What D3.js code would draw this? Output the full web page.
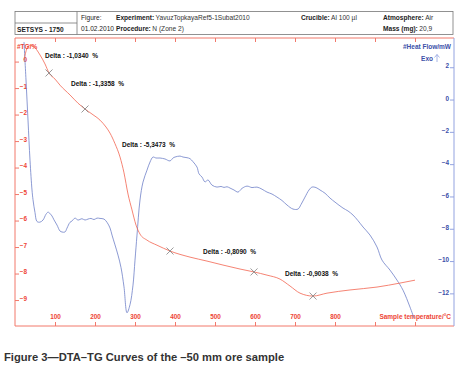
<!DOCTYPE html>
<html>
<head>
<meta charset="utf-8">
<script src="https://cdn.jsdelivr.net/npm/d3@7"></script>
<style>
  body { margin: 0; background: #fff; }
  svg { display: block; font-family: "Liberation Sans", Arial, Helvetica, sans-serif; }
</style>
</head>
<body>
<div id="chart"></div>
<script>
// TG curve (sample temperature °C, mass change %)
const tgTemp = [22.5, 30, 37.5, 50, 62.5, 75, 85, 100, 112.5, 137.5, 157.5, 175, 192.5, 212.5, 227.5, 237.5, 250, 262.5, 272.5, 282.5, 292.5, 302.5, 312.5, 330, 355, 387.5, 437.5, 480, 520, 562.5, 597.5, 630, 662.5, 687.5, 712.5, 745, 780, 837.5, 905, 962.5, 1000];
const tgValue = [0.06, 0.5, 0.62, 0.52, 0.25, -0.09, -0.43, -0.66, -0.89, -1.26, -1.57, -1.79, -1.98, -2.21, -2.47, -2.7, -3.1, -3.6, -4.2, -5.0, -5.6, -6.17, -6.51, -6.74, -6.93, -7.15, -7.38, -7.53, -7.68, -7.83, -7.94, -8.06, -8.21, -8.47, -8.74, -8.85, -8.74, -8.62, -8.51, -8.36, -8.25];

// DTA curve (sample temperature °C, heat flow mW)
const hfTemp = [22.5, 27.5, 32.5, 37.5, 42.5, 45, 50, 55, 62.5, 70, 77.5, 82.5, 85, 92.5, 97.5, 105, 112.5, 117.5, 125, 130, 137.5, 142.5, 150, 157.5, 167.5, 175, 182.5, 190, 197.5, 205, 212.5, 222.5, 230, 237.5, 242.5, 250, 257.5, 265, 272.5, 280, 287.5, 295, 300, 305, 312.5, 320, 330, 337.5, 345, 352.5, 362.5, 375, 387.5, 395, 400, 412.5, 420, 430, 437.5, 445, 455, 460, 467.5, 475, 482.5, 492.5, 505, 515, 522.5, 530, 537.5, 547.5, 557.5, 567.5, 580, 592.5, 605, 617.5, 630, 642.5, 655, 667.5, 680, 695, 707.5, 715, 725, 735, 742.5, 752.5, 762.5, 775, 787.5, 800, 820, 832.5, 845, 857.5, 870, 887.5, 905, 917.5, 937.5, 955, 970, 987.5, 997.5];
const hfValue = [3.56, 1.21, -1.27, -3.75, -5.6, -6.2, -7.0, -7.55, -7.59, -7.46, -7.1, -6.97, -7.0, -7.21, -7.45, -7.77, -8.14, -8.2, -8.2, -7.96, -7.6, -7.52, -7.34, -7.46, -7.38, -7.46, -7.4, -7.36, -7.43, -7.34, -7.36, -7.4, -7.6, -7.95, -8.39, -9.0, -9.63, -10.4, -11.6, -13.2, -12.7, -11.49, -9.94, -8.39, -6.22, -5.11, -4.37, -3.87, -3.56, -3.62, -3.62, -3.68, -3.8, -3.62, -3.56, -3.5, -3.56, -3.6, -3.66, -3.85, -4.18, -4.6, -4.8, -5.1, -4.98, -5.3, -5.42, -5.38, -5.44, -5.4, -5.48, -5.6, -5.73, -5.5, -5.36, -5.45, -5.42, -5.55, -5.73, -5.85, -6.04, -6.25, -6.53, -6.78, -6.78, -6.5, -6.04, -5.6, -5.42, -5.45, -5.6, -5.8, -6.1, -6.35, -6.72, -6.9, -7.15, -7.5, -7.89, -8.39, -9.13, -9.94, -10.56, -11.18, -11.8, -12.85, -13.53];

// Delta step markers on TG curve
const markerTemp = [85, 175, 387.5, 597.5, 745];
const markerValue = [-0.43, -1.79, -7.15, -7.94, -8.85];
const deltaText = ["Delta : -1,0340  %", "Delta : -1,3358  %", "Delta : -5,3473  %", "Delta : -0,8090  %", "Delta : -0,9038  %"];
const deltaTemp = [75, 140, 267.5, 470, 675];
const deltaValue = [0.15, -0.91, -3.21, -7.28, -8.08];

// axis ticks
const tempTicks = [100, 200, 300, 400, 500, 600, 700, 800, 900, 1000];
const tempLabels = ["100", "200", "300", "400", "500", "600", "700", "800", "", ""];
const tgTicks = [0, -1, -2, -3, -4, -5, -6, -7, -8, -9];
const hfTicks = [2, 0, -2, -4, -6, -8, -10, -12];

const W = 460, H = 367;
const plot = {left: 15, right: 454, top: 38, bottom: 326};
const red = "#ee4536", redLine = "#f26450", redAxis = "#f2786b", blue = "#6f80c8", blueAxis = "#93a3e0";

const svg = d3.select("#chart").append("svg")
    .attr("width", W)
    .attr("height", H);

const x = d3.scaleLinear().domain([0, 1097.5]).range([plot.left, plot.right]);
const yTG = d3.scaleLinear().domain([-9.98, 0.89]).range([plot.bottom, plot.top]);
const yHF = d3.scaleLinear().domain([-14.02, 3.81]).range([plot.bottom, plot.top]);

// header box
const head = svg.append("g").attr("stroke", "#777").attr("fill", "none").attr("stroke-width", 0.8);
head.append("rect").attr("x", 15).attr("y", 11.5).attr("width", 438).attr("height", 23);
head.append("line").attr("x1", 77).attr("x2", 77).attr("y1", 11.5).attr("y2", 34.5);
head.append("line").attr("x1", 15).attr("x2", 77).attr("y1", 23).attr("y2", 23);

function headText(xp, yp, label, value) {
    const t = svg.append("text").attr("x", xp).attr("y", yp)
        .style("font-size", "6.6px")
        .style("fill", "#222")
        .text(label);
    if (value !== undefined) {
        t.style("font-weight", "bold");
        const w = t.node().getComputedTextLength();
        svg.append("text").attr("x", xp + w + 1.5).attr("y", yp)
            .style("font-size", "6.6px")
            .style("fill", "#333")
            .text(value);
    }
}
headText(17, 31.5, "SETSYS - 1750", "");
headText(81, 19.5, "Figure:");
headText(116, 19.5, "Experiment:", "YavuzTopkayaRef5-1Subat2010");
headText(301, 19.5, "Crucible:", "Al 100 µl");
headText(383, 19.5, "Atmosphere:", "Air");
headText(81, 31, "01.02.2010");
headText(116, 31, "Procedure:", " N (Zone 2)");
headText(383, 31, "Mass (mg):", " 20,9");

// axes
const bottomAxis = svg.append("g")
    .attr("transform", `translate(0,${plot.bottom})`)
    .call(d3.axisTop(x).tickValues(tempTicks).tickSize(4).tickPadding(3)
        .tickFormat((d, i) => tempLabels[i]));
bottomAxis.select(".domain").attr("d", `M${plot.left},0H${plot.right}`);

const topAxis = svg.append("g")
    .attr("transform", `translate(0,${plot.top})`)
    .call(d3.axisBottom(x).tickValues(tempTicks).tickSize(4).tickFormat(""));
topAxis.select(".domain").attr("d", `M${plot.left},0H${plot.right}`);

const leftAxis = svg.append("g")
    .attr("transform", `translate(${plot.left},0)`)
    .call(d3.axisRight(yTG).tickValues(tgTicks).tickSize(4).tickFormat(d3.format("d")));
leftAxis.select(".domain").attr("d", `M0,${plot.top}V${plot.bottom}`);
leftAxis.selectAll(".tick text").attr("x", 12).attr("dy", "0.05em").attr("text-anchor", "end");

const rightAxis = svg.append("g")
    .attr("transform", `translate(${plot.right},0)`)
    .call(d3.axisLeft(yHF).tickValues(hfTicks).tickSize(4).tickFormat(d3.format("d")));
rightAxis.select(".domain").attr("d", `M0,${plot.top}V${plot.bottom}`);
rightAxis.selectAll(".tick text").attr("x", -5).attr("dy", "0.1em");

[bottomAxis, topAxis, leftAxis].forEach(g => {
    g.selectAll("path, line").attr("stroke", redAxis).attr("stroke-width", 1);
    g.selectAll("text").style("fill", red).style("font-size", "6.4px").style("font-weight", "bold");
});
rightAxis.selectAll("path, line").attr("stroke", blueAxis).attr("stroke-width", 1);
rightAxis.selectAll("text").style("fill", "#3b4fa8").style("font-size", "6.4px").style("font-weight", "bold");

// axis titles
svg.append("text").attr("x", 17).attr("y", 48.5)
    .style("font-size", "6.5px").style("font-weight", "bold").style("fill", red)
    .text("#TG/%");
svg.append("text").attr("x", 451).attr("y", 319).attr("text-anchor", "end")
    .style("font-size", "6.5px").style("font-weight", "bold").style("fill", red)
    .text("Sample temperature/°C");
svg.append("text").attr("x", 451).attr("y", 48.5).attr("text-anchor", "end")
    .style("font-size", "6.5px").style("font-weight", "bold").style("fill", "#3b4fa8")
    .text("#Heat Flow/mW");
svg.append("text").attr("x", 433).attr("y", 60.5).attr("text-anchor", "end")
    .style("font-size", "6.5px").style("font-weight", "bold").style("fill", "#3b4fa8")
    .text("Exo");
svg.append("path")
    .attr("d", "M437,62V54.5M434.5,57.5L437,54.5L439.5,57.5")
    .attr("fill", "none").attr("stroke", blueAxis).attr("stroke-width", 0.8);

// DTA curve
const hfData = hfTemp.map((t, i) => [t, hfValue[i]]);
svg.append("path")
    .datum(hfData)
    .attr("fill", "none")
    .attr("stroke", blue)
    .attr("stroke-width", 0.8)
    .attr("d", d3.line().x(d => x(d[0])).y(d => yHF(d[1])).curve(d3.curveCatmullRom.alpha(0.5)));

// TG curve
const tgData = tgTemp.map((t, i) => [t, tgValue[i]]);
svg.append("path")
    .datum(tgData)
    .attr("fill", "none")
    .attr("stroke", redLine)
    .attr("stroke-width", 0.8)
    .attr("d", d3.line().x(d => x(d[0])).y(d => yTG(d[1])).curve(d3.curveMonotoneX));

// step markers
const cross = 3.5;
svg.append("g").selectAll("path")
    .data(markerTemp.map((t, i) => [t, markerValue[i]]))
    .join("path")
    .attr("d", d => {
        const cx = x(d[0]), cy = yTG(d[1]);
        return `M${cx - cross},${cy - cross}L${cx + cross},${cy + cross}M${cx - cross},${cy + cross}L${cx + cross},${cy - cross}`;
    })
    .attr("stroke", "#808080")
    .attr("stroke-width", 0.8);

svg.append("g").selectAll("text")
    .data(deltaText)
    .join("text")
    .attr("x", (d, i) => x(deltaTemp[i]))
    .attr("y", (d, i) => yTG(deltaValue[i]))
    .style("font-size", "6.5px")
    .style("font-weight", "bold")
    .style("fill", "#111")
    .style("white-space", "pre")
    .text(d => d);

// caption
svg.append("text").attr("x", 4).attr("y", 361)
    .style("font-size", "11.2px").style("font-weight", "bold").style("fill", "#333")
    .text("Figure 3\u2014DTA\u2013TG Curves of the \u201350 mm ore sample");
</script>
</body>
</html>
